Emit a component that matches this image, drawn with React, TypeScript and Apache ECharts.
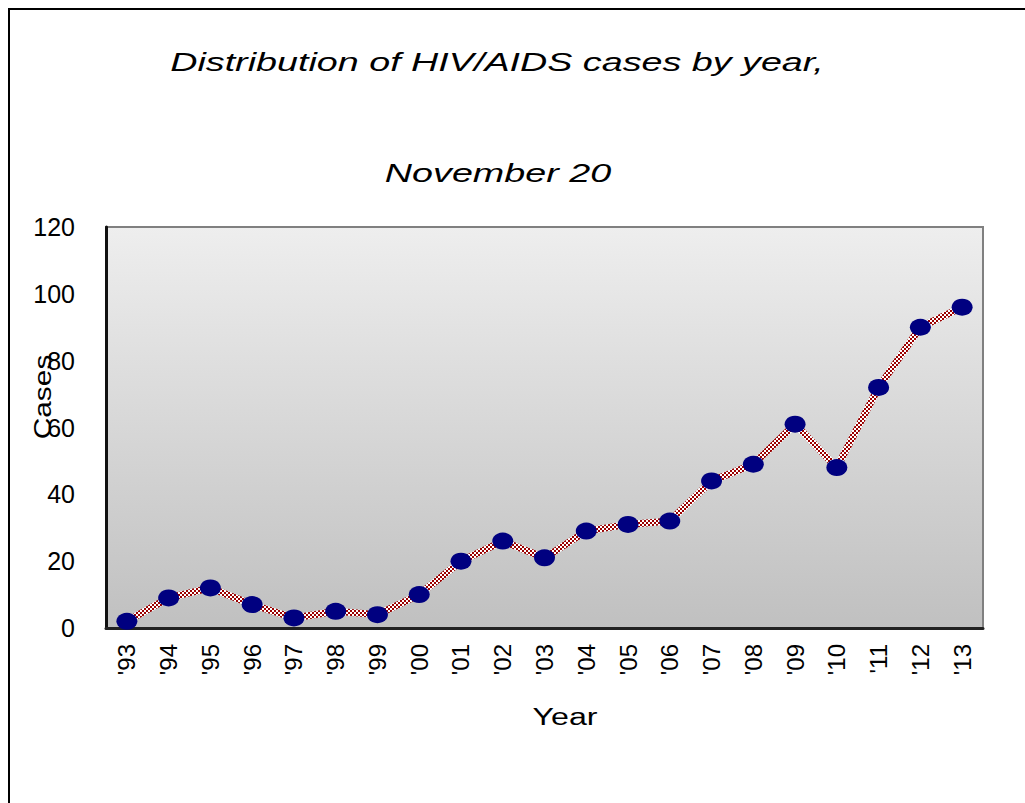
import React, { useEffect, useRef } from "react";
import * as echarts from "echarts";

const years = ["'93","'94","'95","'96","'97","'98","'99","'00","'01","'02","'03","'04","'05","'06","'07","'08","'09","'10","'11","'12","'13"];
const cases = [2, 9, 12, 7, 3, 5, 4, 10, 20, 26, 21, 29, 31, 32, 44, 49, 61, 48, 72, 90, 96];
const yTicks = { min: 0, max: 120, interval: 20 };
const titleLines = ["Distribution of HIV/AIDS cases by year,", "November 20"];

function makePattern(): string {
  const c = document.createElement("canvas");
  c.width = 4;
  c.height = 4;
  const ctx = c.getContext("2d")!;
  ctx.fillStyle = "#ffffff";
  ctx.fillRect(0, 0, 4, 4);
  ctx.fillStyle = "#9b0000";
  ctx.fillRect(0, 0, 2, 2);
  ctx.fillRect(2, 2, 2, 2);
  return c.toDataURL();
}

export default function App() {
  const ref = useRef<HTMLDivElement>(null);
  useEffect(() => {
    document.body.style.margin = "0";
    const chart = echarts.init(ref.current!, undefined, { renderer: "svg" });
    const font = "'Liberation Sans', Arial, sans-serif";
    chart.setOption({
      animation: false,
      textStyle: { fontFamily: font },
      grid: {
        left: 106,
        top: 227,
        width: 877,
        height: 401,
        show: true,
        borderColor: "#808080",
        borderWidth: 2,
        backgroundColor: new echarts.graphic.LinearGradient(0, 0, 0, 1, [
          { offset: 0, color: "#eeeeee" },
          { offset: 1, color: "#c0c0c0" },
        ]),
      },
      graphic: [
        {
          type: "rect",
          shape: { x: 9, y: 9, width: 1100, height: 900 },
          style: { fill: "none", stroke: "#000", lineWidth: 2 },
          silent: true,
          z: -1,
        },
        {
          type: "text",
          x: 497,
          y: 62,
          scaleX: 1.45,
          style: {
            text: titleLines[0],
            font: `italic 26px ${font}`,
            fill: "#000",
            align: "center",
            verticalAlign: "middle",
          },
        },
        {
          type: "text",
          x: 498,
          y: 173,
          scaleX: 1.45,
          style: {
            text: titleLines[1],
            font: `italic 26px ${font}`,
            fill: "#000",
            align: "center",
            verticalAlign: "middle",
          },
        },
        {
          type: "text",
          x: 565,
          y: 717,
          scaleX: 1.4,
          style: {
            text: "Year",
            font: `23px ${font}`,
            fill: "#000",
            align: "center",
            verticalAlign: "middle",
          },
        },
        {
          type: "text",
          x: 43,
          y: 397,
          rotation: Math.PI / 2,
          scaleX: 1.3,
          style: {
            text: "Cases",
            font: `23px ${font}`,
            fill: "#000",
            align: "center",
            verticalAlign: "middle",
          },
        },
      ],
      xAxis: {
        type: "category",
        data: years,
        boundaryGap: true,
        axisLine: { show: true, lineStyle: { color: "#222", width: 3 } },
        axisTick: { show: false },
        axisLabel: {
          rotate: 90,
          color: "#000",
          fontSize: 24,
          margin: 16,
          fontFamily: font,
        },
        splitLine: { show: false },
      },
      yAxis: {
        type: "value",
        min: yTicks.min,
        max: yTicks.max,
        interval: yTicks.interval,
        axisLine: { show: true, lineStyle: { color: "#111", width: 3 } },
        axisTick: { show: false },
        axisLabel: { color: "#000", fontSize: 25, margin: 31, fontFamily: font },
        splitLine: { show: false },
      },
      series: [
        {
          type: "line",
          data: cases,
          symbol: "circle",
          symbolSize: [21, 17],
          itemStyle: { color: "#000080" },
          lineStyle: {
            width: 7,
            color: { image: makePattern(), repeat: "repeat" },
          },
        },
      ],
    });
    return () => chart.dispose();
  }, []);
  return <div ref={ref} style={{ width: 1025, height: 803 }} />;
}
